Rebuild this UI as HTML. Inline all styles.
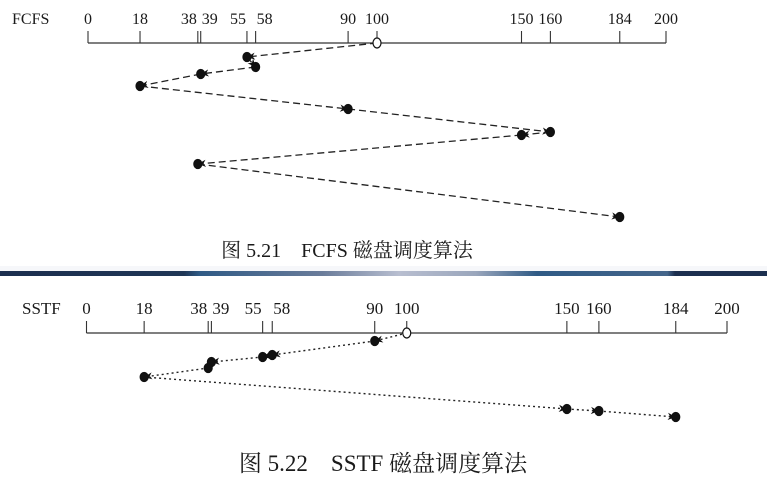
<!DOCTYPE html>
<html><head><meta charset="utf-8"><style>
body{margin:0;width:767px;height:486px;background:#fff;overflow:hidden}
svg{display:block}
text{font-family:"Liberation Serif","Noto Serif CJK SC",serif;fill:#1a1a1a}
</style></head><body>
<svg width="767" height="486">
<defs>
<marker id="ah" viewBox="0 0 10 10" refX="10" refY="5" markerWidth="8" markerHeight="8" markerUnits="userSpaceOnUse" orient="auto"><path d="M0,0.5 L10,5 L0,9.5 L3,5 Z" fill="#111"/></marker>
<linearGradient id="band" x1="0" x2="1"><stop offset="0" stop-color="#1c2f4f"/><stop offset="0.24" stop-color="#1f3656"/><stop offset="0.26" stop-color="#2f5a85"/><stop offset="0.42" stop-color="#6a7c9a"/><stop offset="0.52" stop-color="#b8bed0"/><stop offset="0.62" stop-color="#9aa6bc"/><stop offset="0.7" stop-color="#2f5a85"/><stop offset="0.87" stop-color="#44658a"/><stop offset="0.88" stop-color="#1c2f4f"/><stop offset="1" stop-color="#1c2f4f"/></linearGradient>
</defs>
<rect x="0" y="266" width="767" height="5" fill="#f6f7fa"/>
<rect x="0" y="271" width="767" height="5" fill="url(#band)"/>
<g id="top"></g>
<g id="bot"></g>
</svg>
<script>
const ticks=[0,18,38,39,55,58,90,100,150,160,184,200];
const fcfsSeq=[100,55,58,39,18,90,160,150,38,184];
const fcfsRows=[43,57,67,74,86,109,132,135,164,217];
const sstfSeq=[100,90,58,55,39,38,18,150,160,184];
const sstfRows=[333,341,355,357,362,368,377,409,411,417];
const NS='http://www.w3.org/2000/svg';
function mk(p,t,a){const e=document.createElementNS(NS,t);for(const k in a)e.setAttribute(k,a[k]);p.appendChild(e);return e;}
function chart(gid,name,x0,x1,axisY,labelY,fs,seq,rows,dash,sw,caption,capX,capY,capFs,nameX){
  const g=document.getElementById(gid);
  const sx=v=>x0+(x1-x0)*v/200;
  let t=mk(g,'text',{x:nameX,y:labelY,'font-size':fs});t.textContent=name;
  
  
  let ax=mk(g,'line',{x1:x0,x2:x1,y1:axisY,y2:axisY,stroke:'#333','stroke-width':1.2});
  
  
  ticks.forEach((v,i)=>{
    const l=mk(g,'line',{x1:sx(v),x2:sx(v),y1:axisY-12,y2:axisY,stroke:'#333','stroke-width':1.1});
    
    
    let anchor='middle',dx=0;
    if(i<ticks.length-1&&ticks[i+1]-v<5){anchor='end';dx=-1;}
    else if(i>0&&v-ticks[i-1]<5){anchor='start';dx=1;}
    const tx=mk(g,'text',{x:sx(v)+dx,y:labelY,'font-size':fs,'text-anchor':anchor});tx.textContent=v;
    
    
  });
  for(let i=0;i<seq.length-1;i++){
    const ln=mk(g,'line',{x1:sx(seq[i]),y1:rows[i],x2:sx(seq[i+1]),y2:rows[i+1],stroke:'#222','stroke-width':sw,'stroke-dasharray':dash,'marker-end':'url(#ah)'});
    
    
  }
  seq.forEach((v,i)=>{
    const c=mk(g,'ellipse',{cx:sx(v),cy:rows[i],rx:4,ry:i?4.5:5,fill:i?'#111':'#fff',stroke:'#111','stroke-width':1.2});
    
    
  });
  const cp=mk(g,'text',{x:capX,y:capY,'font-size':capFs,'text-anchor':'middle',fill:'#333'});cp.textContent=caption;
  
  
}
chart('top','FCFS',88,666,43,24,16,fcfsSeq,fcfsRows,'7,4',1.3,'图 5.21\u2003FCFS 磁盘调度算法',347,257,20,12);
chart('bot','SSTF',86.5,727,333,314,17,sstfSeq,sstfRows,'2,3',1.4,'图 5.22\u2003SSTF 磁盘调度算法',383,471,23,22);
</script>
</body></html>
